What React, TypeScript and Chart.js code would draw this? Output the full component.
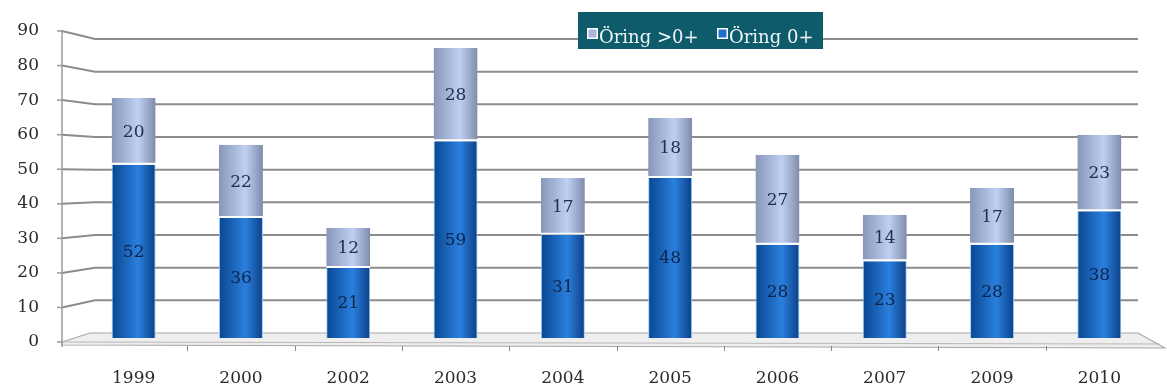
import React, { useEffect, useRef } from "react";
import { Chart, registerables } from "chart.js";

Chart.register(...registerables);

const categories = ["1999", "2000", "2002", "2003", "2004", "2005", "2006", "2007", "2009", "2010"];
const oring0 = [52, 36, 21, 59, 31, 48, 28, 23, 28, 38];
const oringOver0 = [20, 22, 12, 28, 17, 18, 27, 14, 17, 23];
const yTicks = [0, 10, 20, 30, 40, 50, 60, 70, 80, 90];
const seriesNames = ["Öring 0+", "Öring >0+"];

const FONT = "'DejaVu Serif', 'Liberation Serif', serif";
const BAR_PCT = 0.41;

const blueStops = ["#0a4690", "#2a80de", "#0c3f86"];
const lightStops = ["#8796b9", "#bfd0f2", "#7f8bab"];

function barFill(stops: string[]) {
  return (c: any) => {
    const chart = c.chart;
    const xs = chart.scales && chart.scales.x;
    if (!xs || !chart.chartArea || xs.width === undefined) return stops[1];
    const cx = xs.getPixelForValue(c.dataIndex);
    const half = ((xs.width / categories.length) * BAR_PCT) / 2;
    if (!isFinite(cx) || !isFinite(half)) return stops[1];
    const g = chart.ctx.createLinearGradient(cx - half, 0, cx + half, 0);
    g.addColorStop(0, stops[0]);
    g.addColorStop(0.6, stops[1]);
    g.addColorStop(1, stops[2]);
    return g;
  };
}

const decor = {
  id: "decor",
  beforeDatasetsDraw(chart: any) {
    const ctx = chart.ctx;
    const ys = chart.scales.y;
    const xs = chart.scales.x;
    const min = ys.min;
    const max = ys.max;
    const axisX = 62;
    const backL = 95;
    const backR = 1138;
    const frontBottom = 342;
    const frontTop = 31;
    const yf = (v: number) => frontBottom - ((frontBottom - frontTop) * (v - min)) / (max - min);
    const yb = (v: number) => ys.getPixelForValue(v) + ((v - min) / (max - min)) * 1 - 5 * (1 - (v - min) / (max - min));

    ctx.save();
    // floor
    ctx.beginPath();
    ctx.moveTo(axisX, 342);
    ctx.lineTo(backL - 5, yb(0));
    ctx.lineTo(backR, yb(0));
    ctx.lineTo(1165, 348);
    ctx.lineTo(axisX, 345);
    ctx.closePath();
    ctx.fillStyle = "#eeeeee";
    ctx.fill();
    ctx.strokeStyle = "#a8a8a8";
    ctx.lineWidth = 1.2;
    ctx.stroke();
    ctx.beginPath();
    ctx.moveTo(axisX, 342);
    ctx.lineTo(1160, 344);
    ctx.strokeStyle = "#b8b8b8";
    ctx.stroke();

    // grid lines with 3D slant
    ctx.strokeStyle = "#8c8c8c";
    ctx.lineWidth = 2;
    yTicks.forEach((v) => {
      if (v === min) return;
      ctx.beginPath();
      ctx.moveTo(axisX, yf(v));
      ctx.lineTo(backL, yb(v));
      ctx.lineTo(backR, yb(v));
      ctx.stroke();
    });

    // left axis
    ctx.strokeStyle = "#9a9a9a";
    ctx.lineWidth = 1.5;
    ctx.beginPath();
    ctx.moveTo(axisX, yf(max) - 1);
    ctx.lineTo(axisX, yf(min) + 5);
    ctx.stroke();
    yTicks.forEach((v) => {
      ctx.beginPath();
      ctx.moveTo(axisX - 5, yf(v));
      ctx.lineTo(axisX, yf(v));
      ctx.stroke();
    });

    // x tick marks at category boundaries
    ctx.strokeStyle = "#8a8a8a";
    ctx.lineWidth = 1;
    for (let i = 0; i < categories.length - 1; i++) {
      const bx = (xs.getPixelForValue(i) + xs.getPixelForValue(i + 1)) / 2;
      ctx.beginPath();
      ctx.moveTo(Math.round(bx) + 0.5, 346);
      ctx.lineTo(Math.round(bx) + 0.5, 351);
      ctx.stroke();
    }

    // y labels
    ctx.fillStyle = "#2b2b2b";
    ctx.font = `17px ${FONT}`;
    ctx.textAlign = "right";
    ctx.textBaseline = "middle";
    yTicks.forEach((v) => {
      ctx.fillText(String(v), 39, yf(v));
    });

    // legend
    const lx = 578;
    const ly = 12;
    const lw = 245;
    const lh = 37;
    ctx.fillStyle = "#0d5b6b";
    ctx.fillRect(lx, ly, lw, lh);
    ctx.font = `18px ${FONT}`;
    ctx.textAlign = "left";
    ctx.textBaseline = "alphabetic";
    const items = [
      { name: seriesNames[1], color: "#aab4dc", mx: 587 },
      { name: seriesNames[0], color: "#1f6fd0", mx: 717 },
    ];
    items.forEach((it) => {
      ctx.fillStyle = "#ffffff";
      ctx.fillRect(it.mx, 28, 11, 11);
      ctx.fillStyle = it.color;
      ctx.fillRect(it.mx + 1.5, 29.5, 8, 8);
      ctx.fillStyle = "#eef4f6";
      ctx.fillText(it.name, it.mx + 12, 43);
    });
    ctx.restore();
  },
  afterDatasetsDraw(chart: any) {
    const ctx = chart.ctx;
    ctx.save();
    ctx.font = `17px ${FONT}`;
    ctx.textAlign = "center";
    ctx.textBaseline = "middle";
    chart.data.datasets.forEach((ds: any, di: number) => {
      const meta = chart.getDatasetMeta(di);
      meta.data.forEach((el: any, i: number) => {
        const val = ds.data[i];
        ctx.fillStyle = di === 0 ? "#112347" : "#22304f";
        ctx.fillText(String(val), el.x, (el.y + el.base) / 2 + 1);
      });
    });
    ctx.restore();
  },
};

export default function App() {
  const ref = useRef<HTMLCanvasElement | null>(null);
  useEffect(() => {
    if (!ref.current) return;
    const chart = new Chart(ref.current, {
      type: "bar",
      data: {
        labels: categories,
        datasets: [
          {
            label: seriesNames[0],
            data: oring0,
            backgroundColor: barFill(blueStops) as any,
            borderColor: "#8fd0ff",
            borderWidth: { left: 1, right: 1, top: 0, bottom: 0 } as any,
            borderSkipped: false,
            barPercentage: BAR_PCT,
            categoryPercentage: 1,
          },
          {
            label: seriesNames[1],
            data: oringOver0,
            backgroundColor: barFill(lightStops) as any,
            borderColor: "#ffffff",
            borderWidth: { left: 0, right: 0, top: 0, bottom: 2 } as any,
            borderSkipped: false,
            barPercentage: BAR_PCT,
            categoryPercentage: 1,
          },
        ],
      },
      options: {
        animation: false,
        responsive: true,
        maintainAspectRatio: false,
        layout: { padding: { left: 80, right: 14, top: 38, bottom: 0 } },
        plugins: {
          legend: { display: false },
          tooltip: { enabled: false },
        },
        scales: {
          x: {
            stacked: true,
            offset: true,
            grid: { display: false, drawTicks: false },
            border: { display: false },
            ticks: {
              color: "#2b2b2b",
              font: { family: FONT, size: 17 },
              padding: 30,
              maxRotation: 0,
            },
            afterFit: (s: any) => {
              s.height = 51;
            },
          },
          y: {
            stacked: true,
            display: false,
            min: 0,
            max: 90,
            ticks: { stepSize: 10 },
          },
        },
      },
      plugins: [decor],
    });
    return () => chart.destroy();
  }, []);
  return (
    <div style={{ position: "fixed", left: 0, top: 0, width: 1167, height: 389, background: "#ffffff" }}>
      <canvas ref={ref} />
    </div>
  );
}
